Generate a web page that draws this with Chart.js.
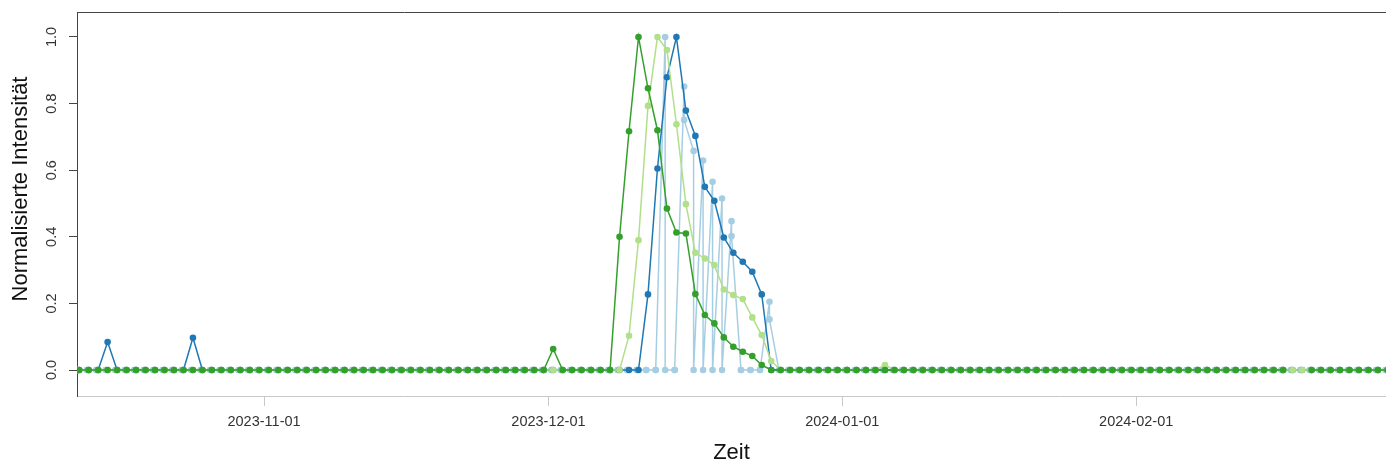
<!DOCTYPE html>
<html>
<head>
<meta charset="utf-8">
<script src="https://cdn.jsdelivr.net/npm/chart.js@4.4.1/dist/chart.umd.min.js"></script>
<style>
  html, body { margin: 0; padding: 0; background: #ffffff; }
  canvas { display: block; }
</style>
</head>
<body>
<canvas id="chart" width="1386" height="462"></canvas>
<script>
// Daily readings, first day of the series and the reference day for the time axis
const firstDay = '2023-10-12';
const originDay = '2023-11-01';
const readingHour = 12;     // daily readings are taken at noon
const lightBlueHour = 7.5;  // the fourth series is read twice each morning

const tickLabels = ['2023-11-01', '2023-12-01', '2024-01-01', '2024-02-01'];
const yTickValues = [0, 0.2, 0.4, 0.6, 0.8, 1.0];
const xTitle = 'Zeit';
const yTitle = 'Normalisierte Intensität';

// Normalised intensity per day (Oct 12 .. Feb 27)
const darkGreen = [
  // Oct 12-31
  0,0,0,0,0,0,0,0,0,0, 0,0,0,0,0,0,0,0,0,0,
  // Nov
  0,0,0,0,0,0,0,0,0,0, 0,0,0,0,0,0,0,0,0,0, 0,0,0,0,0,0,0,0,0,0,
  // Dec
  0.063,0,0,0,0,0,0,0.40,0.717,1.0, 0.846,0.72,0.485,0.413,0.41,0.228,0.165,0.14,0.098,0.07,
  0.055,0.042,0.015,0,0,0,0,0,0,0, 0,
  // Jan
  0,0,0,0,0,0,0,0,0,0, 0,0,0,0,0,0,0,0,0,0, 0,0,0,0,0,0,0,0,0,0, 0,
  // Feb 1-27
  0,0,0,0,0,0,0,0,0,0, 0,0,0,0,0,0,null,null,0,0, 0,0,0,0,0,0,0
];

const lightGreen = [
  // Oct 12-31
  0,0,0,0,0,0,0,0,0,0, 0,0,0,0,0,0,0,0,0,0,
  // Nov
  0,0,0,0,0,0,0,0,0,0, 0,0,0,0,0,0,0,0,0,0, 0,0,0,0,0,0,0,0,0,0,
  // Dec
  0,0,0,0,0,0,0,0,0.103,0.39, 0.793,1.0,0.961,0.738,0.498,0.352,0.335,0.315,0.242,0.225,
  0.213,0.158,0.105,0.027,0,0,0,0,0,0, 0,
  // Jan
  0,0,0,0,0.015,0,0,0,0,0, 0,0,0,0,0,0,0,0,0,0, 0,0,0,0,0,0,0,0,0,0, 0,
  // Feb 1-27
  0,0,0,0,0,0,0,0,0,0, 0,0,0,0,0,0,0,0,0,0, 0,0,0,0,0,0,0
];

const darkBlue = [
  // Oct 12-31
  0,0,0,0.084,0,0,0,0,0,0, 0,0,0.097,0,0,0,0,0,0,0,
  // Nov
  0,0,0,0,0,0,0,0,0,0, 0,0,0,0,0,0,0,0,0,0, 0,0,0,0,0,0,0,0,0,0,
  // Dec
  0,0,0,0,0,0,0,0,0,0, 0.227,0.605,0.879,1.0,0.779,0.703,0.55,0.508,0.398,0.352,
  0.325,0.295,0.227,0,0,0,0,0,0,0, 0,
  // Jan
  0,0,0,0,0,0,0,0,0,0, 0,0,0,0,0,0,0,0,0,0, 0,0,0,0,0,0,0,0,0,0, 0,
  // Feb 1-27
  0,0,0,0,0,0,0,0,0,0, 0,0,0,0,0,0,0,0,0,0, 0,0,0,0,0,0,0
];

// Two morning readings per day: first and second
const lightBlueFirst = [
  // Oct 12-31
  0,0,0,0,0,0,0,0,0,0, 0,0,0,0,0,0,0,0,0,0,
  // Nov
  0,0,0,0,0,0,0,0,0,0, 0,0,0,0,0,0,0,0,0,0, 0,0,0,0,0,0,0,0,0,0,
  // Dec
  0,0,0,0,0,0,0,0,0,0, 0,0,1.0,0,0.851,0.658,0.629,0.565,0.515,0.447,
  0,0,0,0.205,0,0,0,0,0,0, 0,
  // Jan
  0,0,0,0,0,0,0,0,0,0, 0,0,0,0,0,0,0,0,0,0, 0,0,0,0,0,0,0,0,0,0, 0,
  // Feb 1-27
  0,0,0,0,0,0,0,0,0,0, 0,0,0,0,0,0,0,0,0,0, 0,0,0,0,0,0,0
];

const lightBlueSecond = [
  // Oct 12-31
  0,0,0,0,0,0,0,0,0,0, 0,0,0,0,0,0,0,0,0,0,
  // Nov
  0,0,0,0,0,0,0,0,0,0, 0,0,0,0,0,0,0,0,0,0, 0,0,0,0,0,0,0,0,0,0,
  // Dec
  0,0,0,0,0,0,0,0,0,0, 0,0,0,0,0.751,0,0,0,0,0.402,
  0,0,0,0.152,0,0,0,0,0,0, 0,
  // Jan
  0,0,0,0,0,0,0,0,0,0, 0,0,0,0,0,0,0,0,0,0, 0,0,0,0,0,0,0,0,0,0, 0,
  // Feb 1-27
  0,0,0,0,0,0,0,0,0,0, 0,0,0,0,0,0,0,0,0,0, 0,0,0,0,0,0,0
];

// ---- time axis in days relative to originDay ----
const DAY_MS = 86400000;
const dayOffset = (Date.parse(firstDay) - Date.parse(originDay)) / DAY_MS;
const tickDays = tickLabels.map(s => (Date.parse(s) - Date.parse(originDay)) / DAY_MS);

function dailyPoints(values, hour) {
  return values.map((v, i) => ({ x: dayOffset + i + hour / 24, y: v }));
}
function pairedPoints(first, second, hour) {
  const pts = [];
  first.forEach((v, i) => {
    const x = dayOffset + i + hour / 24;
    pts.push({ x: x, y: v }, { x: x, y: second[i] });
  });
  return pts;
}

function lineSet(label, color, points) {
  return {
    label: label,
    data: points,
    borderColor: color,
    backgroundColor: color,
    pointBackgroundColor: color,
    pointBorderWidth: 0,
    pointRadius: 3.3,
    borderWidth: 1.5,
    tension: 0,
    spanGaps: false
  };
}

const FONT = '"Liberation Sans", Arial, sans-serif';
Chart.defaults.font.family = FONT;

// Vertical axis title, set beside the value axis
const yTitlePlugin = {
  id: 'yTitle',
  afterDraw(chart) {
    const ctx = chart.ctx;
    ctx.save();
    ctx.translate(27, 189);
    ctx.rotate(-Math.PI / 2);
    ctx.font = '22px ' + FONT;
    ctx.fillStyle = '#111111';
    ctx.textAlign = 'center';
    ctx.textBaseline = 'alphabetic';
    ctx.fillText(yTitle, 0, 0);
    ctx.restore();
  }
};

new Chart(document.getElementById('chart'), {
  type: 'line',
  data: {
    datasets: [
      lineSet('Reihe 1', '#33a02c', dailyPoints(darkGreen, readingHour)),
      lineSet('Reihe 2', '#b2df8a', dailyPoints(lightGreen, readingHour)),
      lineSet('Reihe 3', '#1f78b4', dailyPoints(darkBlue, readingHour)),
      lineSet('Reihe 4', '#a6cee3', pairedPoints(lightBlueFirst, lightBlueSecond, lightBlueHour))
    ]
  },
  plugins: [yTitlePlugin],
  options: {
    responsive: false,
    animation: false,
    devicePixelRatio: 1,
    layout: { autoPadding: false, padding: { top: 0, right: 0, bottom: 0, left: 0 } },
    plugins: { legend: { display: false }, tooltip: { enabled: false } },
    scales: {
      x: {
        type: 'linear',
        position: 'bottom',
        min: -19.73,
        max: 118.35,
        afterBuildTicks: s => { s.ticks = tickDays.map(v => ({ value: v })); },
        afterFit: s => { s.height = 66; s.paddingLeft = 0; s.paddingRight = 0; },
        ticks: {
          autoSkip: false,
          maxRotation: 0,
          minRotation: 0,
          padding: 7,
          color: '#333333',
          font: { size: 14.5, family: FONT },
          callback: v => tickLabels[tickDays.indexOf(v)]
        },
        grid: { drawOnChartArea: false, drawTicks: true, tickLength: 10, color: '#c8c8c8', lineWidth: 1 },
        border: { display: true, color: '#c8c8c8', width: 1 },
        title: {
          display: true,
          text: xTitle,
          color: '#111111',
          font: { size: 22, family: FONT, lineHeight: 0.8 },
          padding: { top: 0, bottom: 0 }
        }
      },
      xTop: {
        type: 'linear',
        position: 'top',
        min: -19.73,
        max: 118.35,
        afterFit: s => { s.height = 12; s.paddingLeft = 0; s.paddingRight = 0; },
        ticks: { display: false },
        grid: { drawOnChartArea: false, drawTicks: false },
        border: { display: true, color: '#444444', width: 1 }
      },
      y: {
        type: 'linear',
        position: 'left',
        min: -0.078,
        max: 1.075,
        afterBuildTicks: s => { s.ticks = yTickValues.map(v => ({ value: v })); },
        afterFit: s => { s.width = 77; s.paddingTop = 0; s.paddingBottom = 0; },
        ticks: {
          minRotation: 90,
          maxRotation: 90,
          crossAlign: 'center',
          padding: 7,
          color: '#333333',
          font: { size: 14.5, family: FONT },
          callback: v => Number(v).toFixed(1)
        },
        grid: { drawOnChartArea: false, drawTicks: true, tickLength: 8, color: '#444444', lineWidth: 1 },
        border: { display: true, color: '#444444', width: 1 },
        title: { display: false }
      }
    }
  }
});
</script>
</body>
</html>
